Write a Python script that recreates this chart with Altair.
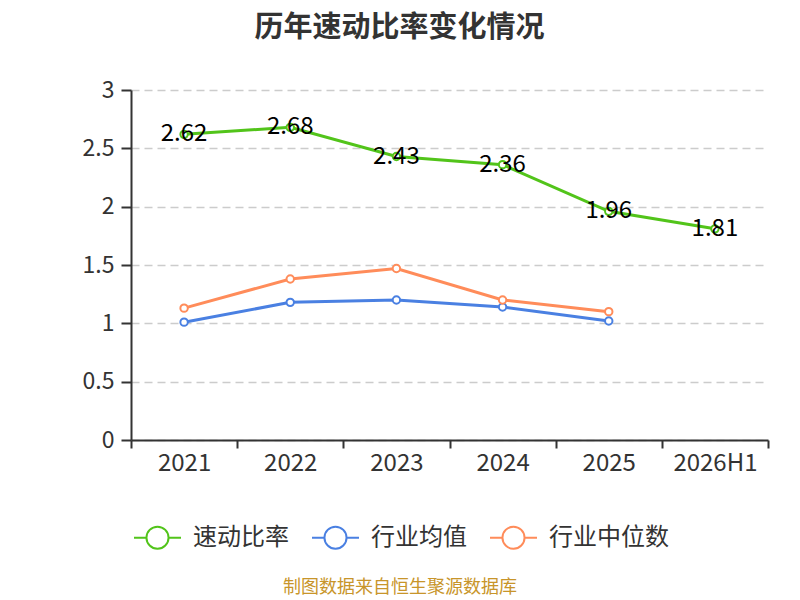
import altair as alt
import pandas as pd

years = ["2021", "2022", "2023", "2024", "2025", "2026H1"]
quick_ratio = [2.62, 2.68, 2.43, 2.36, 1.96, 1.81]
ind_years = ["2021", "2022", "2023", "2024", "2025"]
ind_avg = [1.01, 1.18, 1.20, 1.14, 1.02]
ind_med = [1.13, 1.38, 1.47, 1.20, 1.10]
series_names = ["速动比率", "行业均值", "行业中位数"]
colors = ["#52c41a", "#4a80e2", "#ff8c5a"]
y_ticks = [0, 0.5, 1, 1.5, 2, 2.5, 3]
title_text = "历年速动比率变化情况"
source_text = "制图数据来自恒生聚源数据库"

rows = []
for yr, v in zip(years, quick_ratio):
    rows.append({"year": yr, "value": v, "series": series_names[0]})
for yr, v in zip(ind_years, ind_avg):
    rows.append({"year": yr, "value": v, "series": series_names[1]})
for yr, v in zip(ind_years, ind_med):
    rows.append({"year": yr, "value": v, "series": series_names[2]})
df = pd.DataFrame(rows)

FONT = "Noto Sans CJK SC"
legend_path = ("M-1,0 L-0.47,0 M0.47,0 L1,0 "
               "M0.47,0 A0.47,0.47 0 1,1 -0.47,0 A0.47,0.47 0 1,1 0.47,0")

x = alt.X("year:N", sort=years, title=None,
          scale=alt.Scale(domain=years, paddingInner=0, paddingOuter=0),
          axis=alt.Axis(labelAngle=0, labelFontSize=24, labelColor="#333333", labelPadding=3,
                        tickBand="extent", tickSize=8, tickColor="#333333", domainColor="#333333",
                        domainWidth=2, tickWidth=2, grid=False, labelFont=FONT))
y = alt.Y("value:Q", title=None,
          scale=alt.Scale(domain=[0, 3]),
          axis=alt.Axis(values=y_ticks, labelFontSize=23, labelColor="#333333",
                        tickSize=10, tickColor="#333333", domainColor="#333333", domainWidth=2,
                        tickWidth=2, gridDash=[8, 5], gridColor="#cccccc", gridWidth=1.5,
                        labelPadding=7, labelFont=FONT, labelExpr="datum.value"))
color_scale = alt.Scale(domain=series_names, range=colors)
color = alt.Color("series:N", sort=series_names, scale=color_scale,
                  legend=alt.Legend(orient="none", legendX=2, legendY=423, direction="horizontal",
                                    title=None, labelFontSize=24, labelColor="#333333",
                                    labelFont=FONT, symbolType=legend_path, symbolSize=2209,
                                    symbolStrokeWidth=2, symbolFillColor="white",
                                    columnPadding=19, labelOffset=11))

base = alt.Chart(df)

lines = base.mark_line(strokeWidth=3).encode(x=x, y=y, color=color)
points = base.mark_point(filled=True, fill="white", size=55, strokeWidth=2, opacity=1).encode(
    x=x, y=y, stroke=alt.Stroke("series:N", scale=color_scale, legend=None))
labels = base.transform_filter(alt.datum.series == series_names[0]).mark_text(
    fontSize=24, color="#000000", font=FONT, baseline="middle"
).encode(x=x, y=y, text=alt.Text("value:Q", format=".2f"))

source = alt.Chart(pd.DataFrame({"t": [source_text]})).mark_text(
    fontSize=18, color="#c8952a", font=FONT, baseline="middle"
).encode(text="t:N", x=alt.value(269), y=alt.value(498))

final = alt.layer(lines, points, labels, source).properties(
    width=637, height=350,
    title=alt.TitleParams(title_text, fontSize=29, fontWeight="bold", color="#333333",
                          font=FONT, anchor="middle", offset=36, dx=-50),
    autosize=alt.AutoSizeParams(type="none"),
    padding={"left": 123, "top": 82, "right": 24, "bottom": 170},
).configure_view(stroke=None)

final.save("out.html", embed_options={"renderer": "svg", "actions": False})
